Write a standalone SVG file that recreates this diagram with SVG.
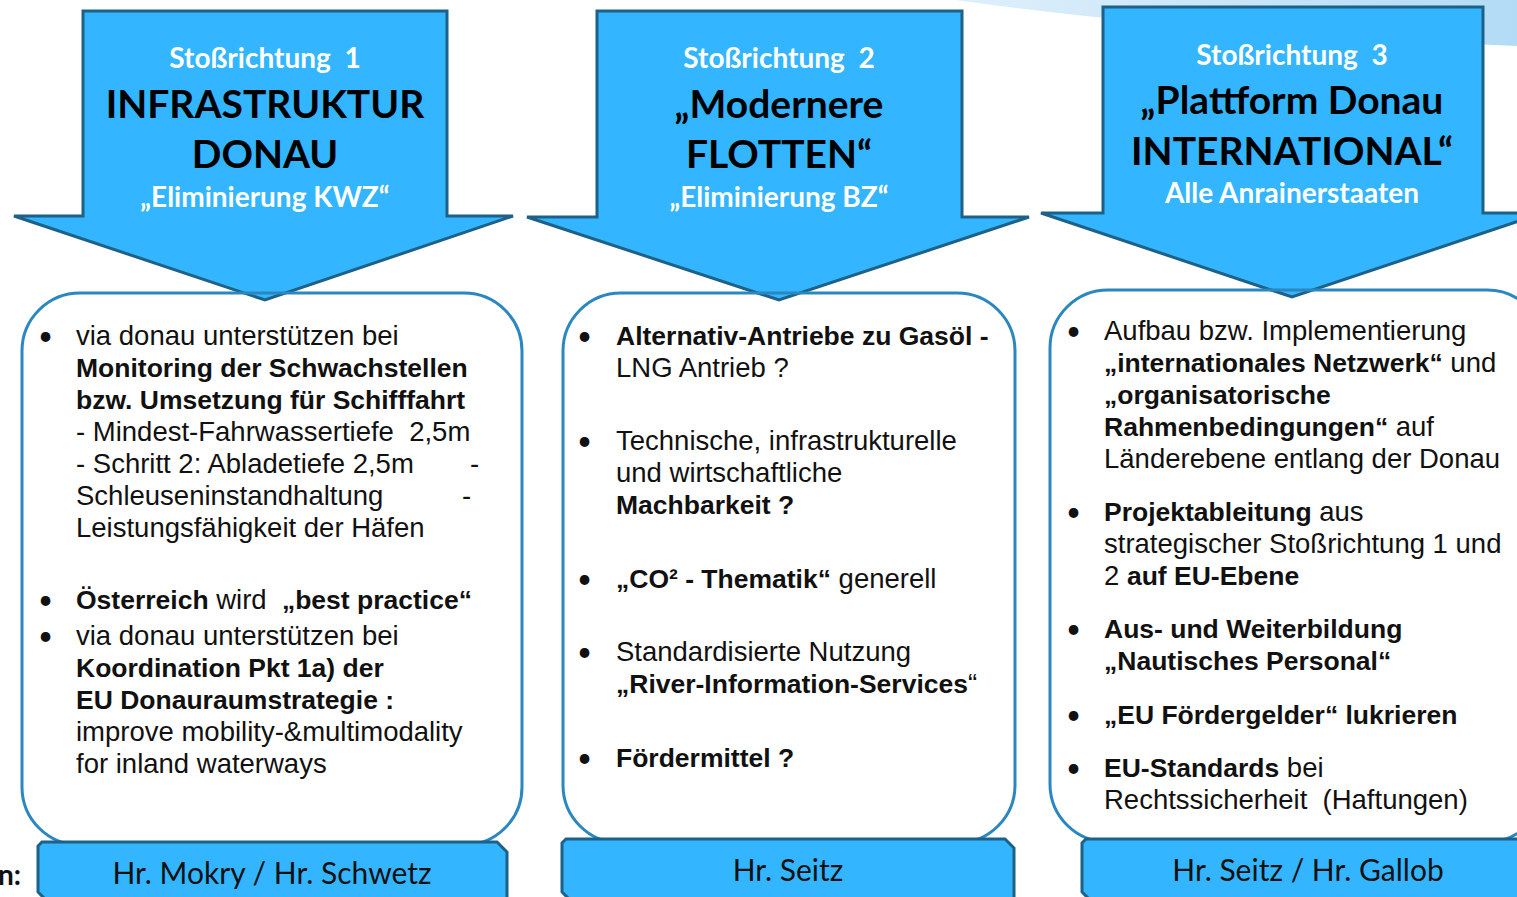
<svg xmlns="http://www.w3.org/2000/svg" width="1517" height="897" viewBox="0 0 1517 897">
<style>
.arrow{fill:#33B5FF;stroke:#1D6189;stroke-width:3;stroke-linejoin:miter}
.box{fill:none;stroke:#2A87C0;stroke-width:3}
.who{fill:#33B5FF;stroke:#1D6189;stroke-width:3}
text{font-family:Lato,"Open Sans","Liberation Sans",sans-serif;white-space:pre}
.sub{fill:#fff;font-weight:bold;font-size:28px;text-anchor:middle}
.head{fill:#000;font-weight:bold;font-size:39px;text-anchor:middle}
.t{fill:#111;font-size:27.5px;font-family:"Liberation Sans",Arial,sans-serif}
.b{font-weight:bold;font-size:26.5px}
.bul{fill:#111;font-size:26px}
.name{fill:#111;font-size:30px;text-anchor:middle}
</style>
<defs>
<linearGradient id="band" x1="0" y1="0" x2="1" y2="0">
<stop offset="0" stop-color="#deeffb"/>
<stop offset="1" stop-color="#b3dbf5"/>
</linearGradient>
</defs>
<rect width="1517" height="897" fill="#fff"/>
<path d="M955,0 Q1200,34 1517,46 V0 Z" fill="url(#band)"/>

<g id="arrow1">
<path class="arrow" d="M83,11 H447 V216 H513 L265,300 L14,216 H83 Z"/>
<text class="sub" x="265" y="68">Stoßrichtung  1</text>
<text class="head" x="265" y="118">INFRASTRUKTUR</text>
<text class="head" x="265" y="168">DONAU</text>
<text class="sub" x="265" y="207">„Eliminierung KWZ“</text>
</g>
<g id="arrow2">
<path class="arrow" d="M597,11 H962 V217 H1029 L779,300 L527,217 H597 Z"/>
<text class="sub" x="779" y="68">Stoßrichtung  2</text>
<text class="head" x="779" y="118">„Modernere</text>
<text class="head" x="779" y="168">FLOTTEN“</text>
<text class="sub" x="779" y="207">„Eliminierung BZ“</text>
</g>
<g id="arrow3">
<path class="arrow" d="M1103,7 H1483 V213 H1543 L1292,297 L1041,213 H1103 Z"/>
<text class="sub" x="1292" y="65">Stoßrichtung  3</text>
<text class="head" x="1292" y="114">„Plattform Donau</text>
<text class="head" x="1292" y="165">INTERNATIONAL“</text>
<text class="sub" x="1292" y="203">Alle Anrainerstaaten</text>
</g>

<g id="panel1">
<rect class="box" x="22" y="293" width="500" height="552" rx="58"/>
<text class="bul" x="38" y="345">•</text>
<text class="t" x="76" y="345">via donau unterstützen bei</text>
<text class="t b" x="76" y="377">Monitoring der Schwachstellen</text>
<text class="t b" x="76" y="409">bzw. Umsetzung für Schifffahrt</text>
<text class="t" x="76" y="441">- Mindest-Fahrwassertiefe  2,5m</text>
<text class="t" x="76" y="473">- Schritt 2: Abladetiefe 2,5m</text>
<text class="t" x="470" y="473">-</text>
<text class="t" x="76" y="505">Schleuseninstandhaltung</text>
<text class="t" x="462" y="505">-</text>
<text class="t" x="76" y="537">Leistungsfähigkeit der Häfen</text>
<text class="bul" x="38" y="609">•</text>
<text class="t" x="76" y="609"><tspan class="b">Österreich</tspan> wird  <tspan class="b">„best practice“</tspan></text>
<text class="bul" x="38" y="645">•</text>
<text class="t" x="76" y="645">via donau unterstützen bei</text>
<text class="t b" x="76" y="677">Koordination Pkt 1a) der</text>
<text class="t b" x="76" y="709">EU Donauraumstrategie :</text>
<text class="t" x="76" y="741">improve mobility-&amp;multimodality</text>
<text class="t" x="76" y="773">for inland waterways</text>
</g>

<g id="panel2">
<rect class="box" x="563" y="293" width="452" height="550" rx="58"/>
<text class="bul" x="577" y="345">•</text>
<text class="t b" x="616" y="345">Alternativ-Antriebe zu Gasöl -</text>
<text class="t" x="616" y="377">LNG Antrieb ?</text>
<text class="bul" x="577" y="450">•</text>
<text class="t" x="616" y="450">Technische, infrastrukturelle</text>
<text class="t" x="616" y="482">und wirtschaftliche</text>
<text class="t b" x="616" y="514">Machbarkeit ?</text>
<text class="bul" x="577" y="588">•</text>
<text class="t" x="616" y="588"><tspan class="b">„CO² - Thematik“</tspan> generell</text>
<text class="bul" x="577" y="661">•</text>
<text class="t" x="616" y="661">Standardisierte Nutzung</text>
<text class="t" x="616" y="693"><tspan class="b">„River-Information-Services</tspan>“</text>
<text class="bul" x="577" y="767">•</text>
<text class="t b" x="616" y="767">Fördermittel ?</text>
</g>

<g id="panel3">
<rect class="box" x="1050" y="290" width="495" height="552" rx="58"/>
<text class="bul" x="1066" y="340">•</text>
<text class="t" x="1104" y="340">Aufbau bzw. Implementierung</text>
<text class="t" x="1104" y="372"><tspan class="b">„internationales Netzwerk“</tspan> und</text>
<text class="t b" x="1104" y="404">„organisatorische</text>
<text class="t" x="1104" y="436"><tspan class="b">Rahmenbedingungen“</tspan> auf</text>
<text class="t" x="1104" y="468">Länderebene entlang der Donau</text>
<text class="bul" x="1066" y="521">•</text>
<text class="t" x="1104" y="521"><tspan class="b">Projektableitung</tspan> aus</text>
<text class="t" x="1104" y="553">strategischer Stoßrichtung 1 und</text>
<text class="t" x="1104" y="585">2 <tspan class="b">auf EU-Ebene</tspan></text>
<text class="bul" x="1066" y="638">•</text>
<text class="t b" x="1104" y="638">Aus- und Weiterbildung</text>
<text class="t b" x="1104" y="670">„Nautisches Personal“</text>
<text class="bul" x="1066" y="724">•</text>
<text class="t b" x="1104" y="724">„EU Fördergelder“ lukrieren</text>
<text class="bul" x="1066" y="777">•</text>
<text class="t" x="1104" y="777"><tspan class="b">EU-Standards</tspan> bei</text>
<text class="t" x="1104" y="809">Rechtssicherheit  (Haftungen)</text>
</g>

<text x="-2" y="885" fill="#111" font-size="28" font-weight="bold">n:</text>
<g id="owner1">
<path class="who" d="M42,842 H497 L507,852 V899 H45 L38,892 V846 Z"/>
<text class="name" x="272" y="884">Hr. Mokry / Hr. Schwetz</text>
</g>
<g id="owner2">
<path class="who" d="M566,839 H1005 L1014,848 V899 H569 L562,892 V843 Z"/>
<text class="name" x="788" y="881">Hr. Seitz</text>
</g>
<g id="owner3">
<path class="who" d="M1086,839 H1530 V899 H1089 L1082,892 V843 Z"/>
<text class="name" x="1308" y="881">Hr. Seitz / Hr. Gallob</text>
</g>
</svg>
